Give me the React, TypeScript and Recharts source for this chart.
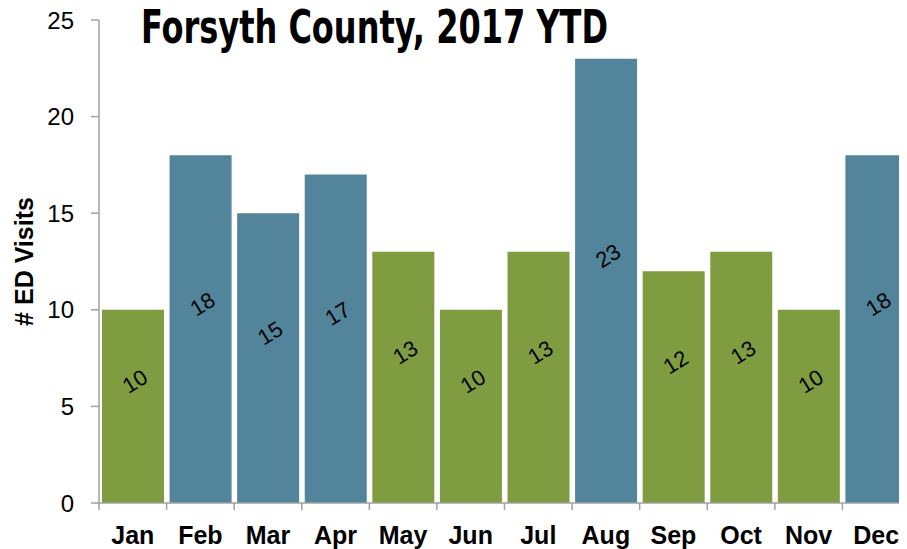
import { Bar, BarChart, Cell, LabelList, XAxis, YAxis } from "recharts";

const months = ["Jan", "Feb", "Mar", "Apr", "May", "Jun", "Jul", "Aug", "Sep", "Oct", "Nov", "Dec"];
const visits = [10, 18, 15, 17, 13, 10, 13, 23, 12, 13, 10, 18];
// true = drawn in the blue shade
const highlighted = [false, true, true, true, false, false, false, true, false, false, false, true];
const yTicks = [0, 5, 10, 15, 20, 25];

const GREEN = "#7f9d40";
const BLUE = "#52849b";
const AXIS = "#a0a0a0";
const FONT = "'Liberation Sans', Arial, sans-serif";

const data = months.map((month, i) => ({ month, visits: visits[i], hi: highlighted[i] }));

const MonthTick = (props: any) => {
  const { x, y, payload } = props;
  const half = payload && typeof payload.offset === "number" ? payload.offset : 33.8;
  return (
    <g>
      <line x1={x - half} x2={x - half} y1={y} y2={y + 7} stroke={AXIS} strokeWidth={1.5} />
      <text x={x} y={y + 41} textAnchor="middle" fontFamily={FONT} fontWeight="bold" fontSize={25} fill="#000">
        {payload.value}
      </text>
    </g>
  );
};

const BarValue = (props: any) => {
  const { x, y, width, height, value } = props;
  const cx = x + width / 2 + 2;
  const cy = y + height / 2 - 25;
  return (
    <text
      x={cx}
      y={cy}
      transform={`rotate(-32 ${cx} ${cy})`}
      textAnchor="middle"
      dominantBaseline="central"
      fontFamily={FONT}
      fontSize={22}
      fill="#000"
    >
      {value}
    </text>
  );
};

const YTitle = (props: any) => {
  const vb = props.viewBox || { x: 0, y: 20, height: 483 };
  const cx = vb.x + 24;
  const cy = vb.y + vb.height / 2;
  return (
    <text
      x={cx}
      y={cy}
      transform={`rotate(-90 ${cx} ${cy})`}
      textAnchor="middle"
      dominantBaseline="central"
      fontFamily={FONT}
      fontWeight="bold"
      fontSize={25}
      fill="#000"
    >
      # ED Visits
    </text>
  );
};

export default function App() {
  return (
    <div style={{ position: "relative", width: 907, height: 549, overflow: "hidden", margin: "-8px 0 0 -8px", background: "#fff" }}>
      <BarChart
        width={910}
        height={549}
        data={data}
        margin={{ top: 20, right: 0, left: 0, bottom: 0 }}
        barCategoryGap={3}
      >
        <XAxis
          dataKey="month"
          height={46}
          interval={0}
          tickLine={false}
          tickSize={0}
          tickMargin={0}
          axisLine={{ stroke: AXIS, strokeWidth: 1.5 }}
          tick={<MonthTick />}
        />
        <YAxis
          width={99}
          domain={[0, 25]}
          ticks={yTicks}
          interval={0}
          tickSize={8}
          tickMargin={17}
          axisLine={{ stroke: AXIS, strokeWidth: 1.5 }}
          tickLine={{ stroke: AXIS, strokeWidth: 1.5 }}
          tick={{ fill: "#000", fontSize: 24, fontFamily: FONT }}
          label={<YTitle />}
        />
        <Bar dataKey="visits" isAnimationActive={false}>
          {data.map((d) => (
            <Cell key={d.month} fill={d.hi ? BLUE : GREEN} />
          ))}
          <LabelList dataKey="visits" content={<BarValue />} />
        </Bar>
      </BarChart>
      <svg width={907} height={60} style={{ position: "absolute", left: 0, top: 0, pointerEvents: "none" }}>
        <text
          x={141}
          y={43}
          textLength={467}
          lengthAdjust="spacingAndGlyphs"
          fontFamily="'Liberation Sans Narrow', 'DejaVu Sans Condensed', sans-serif"
          fontWeight="bold"
          fontSize={46}
          fill="#000"
        >
          Forsyth County, 2017 YTD
        </text>
      </svg>
    </div>
  );
}
